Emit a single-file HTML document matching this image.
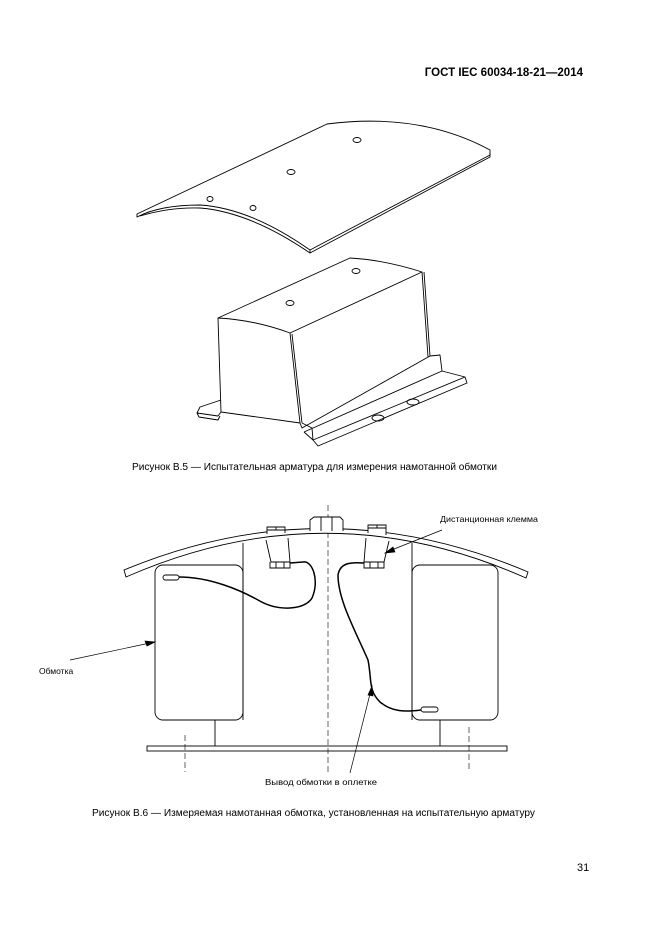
<!DOCTYPE html>
<html><head><meta charset="utf-8"><style>
html,body{margin:0;padding:0;background:#fff}
svg{display:block}
text{font-family:"Liberation Sans","Noto Sans CJK SC",sans-serif;fill:#000}
</style></head><body>
<svg width="661" height="935" viewBox="0 0 661 935" xmlns="http://www.w3.org/2000/svg">
<text x="583" y="76" font-size="11.5" font-weight="bold" text-anchor="end">ГОСТ IEC 60034-18-21—2014</text>

<g fill="none" stroke="#000" stroke-width="0.9" stroke-linejoin="round">
<path d="M137,214 L327,124 Q420,112 490,150 L490,155 L310,250 Q250,208 200,205 Q160,205 137,217 Z" fill="#fff"/>
<path d="M140,216 Q170,207 200,208 Q250,212 310,253 L490,157 L490,153"/>
<path d="M310,250 L310,253"/>
<ellipse cx="357" cy="140" rx="4" ry="2.5"/>
<ellipse cx="291" cy="172" rx="4" ry="2.5"/>
<ellipse cx="210" cy="199" rx="3" ry="2.5"/>
<ellipse cx="253" cy="208" rx="3" ry="2.5"/>

<path d="M218,318 Q255,320 290,333 L422,272 Q385,260 350,258 Z" fill="#fff"/>
<path d="M218,318 L221,412 L300,423 L290,333"/>
<path d="M292,334 L302,423"/>
<path d="M422,272 L428,357"/>
<path d="M424,272 L430,356"/>
<ellipse cx="356" cy="271" rx="4" ry="2.5"/>
<ellipse cx="290" cy="303" rx="4" ry="2.5"/>
<path d="M300,423 L302,428 L430,356 L440,355 L442,371 L304,432"/>
<path d="M442,371 L465,377 L467,383 L318,446 L313,440 L465,377"/>
<path d="M313,440 L312,428 L302,423 M304,432 L313,440"/>
<ellipse cx="378" cy="418" rx="6" ry="3"/>
<ellipse cx="413" cy="402" rx="6" ry="3"/>
<path d="M221,400 L200,407 L197,413 L218,416 L221,412 M197,413 L199,417 L218,420 L220,416"/>
</g>
<text x="132" y="470" font-size="10" textLength="365" lengthAdjust="spacingAndGlyphs">Рисунок В.5 — Испытательная арматура для измерения намотанной обмотки</text>

<g fill="none" stroke="#000" stroke-width="0.9">
<path d="M328,505 L328,772 M185,735 L185,772 M469,727 L469,772" stroke-dasharray="6,3" stroke-width="0.6"/>
<!-- arc sheet -->
<path d="M124,570 Q326,486 528,572 L526,578 Q326,489 126,577 Z" fill="#fff"/>
<!-- center nut -->
<path d="M310,531 L310,520 L314,517 L340,517 L343,520 L343,531 M321,517 L321,531 M332,517 L332,531" fill="#fff"/>
<!-- clamp nuts -->
<path d="M267,534 L267,527 L285,527 L285,533" fill="#fff"/>
<path d="M267,530 L285,530 M276,527 L276,530"/>
<path d="M368,533 L368,525 L386,525 L386,535" fill="#fff"/>
<path d="M368,528 L386,528 M377,525 L377,528"/>
<!-- clamp bodies -->
<path d="M266,540 L271,562 L290,562 L288,538"/>
<path d="M270,562 L270,568 L290,568 L290,562 M276,562 L276,568 M284,562 L284,568"/>
<path d="M366,538 L364,562 L384,562 L389,541"/>
<path d="M364,562 L364,568 L384,568 L384,562 M370,562 L370,568 M378,562 L378,568"/>
<path d="M243,543 L243,720 M412,543 L412,720"/>
<rect x="155" y="565" width="88" height="155" rx="8"/>
<rect x="412" y="565" width="86" height="155" rx="8"/>
<path d="M215,720 L215,746 M440,720 L440,746"/>
<rect x="147" y="746" width="360" height="5"/>
<rect x="163" y="575" width="16" height="5" rx="2.5"/>
<rect x="421" y="707" width="17" height="5" rx="2.5"/>
</g>
<g fill="none" stroke="#000" stroke-width="1.5">
<path d="M179,577 C210,577 240,590 258,600 C278,612 305,610 312,598 C320,580 312,560 303,562 L290,563"/>
<path d="M364,563 C350,562 340,563 338,575 C338,600 355,630 368,660 C372,680 368,690 380,702 C392,712 405,712 421,710"/>
</g>
<g stroke="#000" stroke-width="0.7" fill="#000">
<path d="M70,660 L150,643" fill="none"/>
<path d="M155,642 L145,641 L147,646 Z"/>
<path d="M442,530 L389,551" fill="none"/>
<path d="M385,553 L393,547 L395,552 Z"/>
<path d="M350,773 L371,690" fill="none"/>
<path d="M372,686 L368,695 L373,696 Z"/>
</g>
<text x="39" y="674" font-size="8.5">Обмотка</text>
<text x="440" y="522" font-size="8.5" textLength="98" lengthAdjust="spacingAndGlyphs">Дистанционная клемма</text>
<text x="265" y="785" font-size="8.5" textLength="112" lengthAdjust="spacingAndGlyphs">Вывод обмотки в оплетке</text>
<text x="92" y="816" font-size="10" textLength="443" lengthAdjust="spacingAndGlyphs">Рисунок В.6 — Измеряемая намотанная обмотка, установленная на испытательную арматуру</text>
<text x="577" y="871" font-size="11">31</text>
</svg>
</body></html>
